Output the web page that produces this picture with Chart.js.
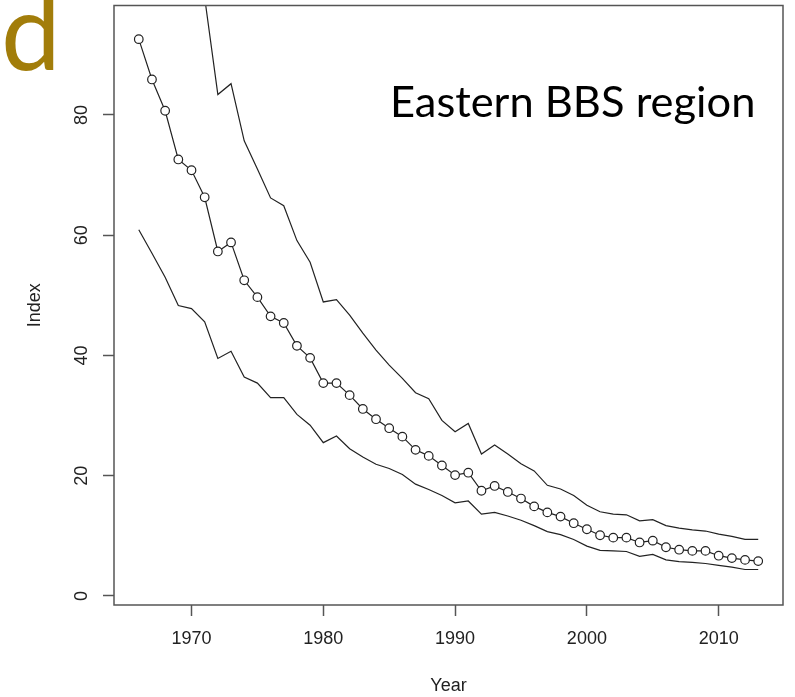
<!DOCTYPE html>
<html>
<head>
<meta charset="utf-8">
<script src="https://cdn.jsdelivr.net/npm/chart.js@4"></script>
<style>
  html, body { margin: 0; padding: 0; background: #fff; }
  #wrap { width: 795px; height: 697px; }
</style>
</head>
<body>
<div id="wrap"><canvas id="chart"></canvas></div>
<script>
// Index values
const years = [];
for (let y = 1966; y <= 2013; y++) years.push(y);

const index = [92.6, 85.9, 80.7, 72.6, 70.8, 66.3, 57.3, 58.8, 52.5, 49.7,
               46.5, 45.4, 41.6, 39.6, 35.4, 35.4, 33.4, 31.1, 29.4, 27.9,
               26.5, 24.3, 23.3, 21.7, 20.1, 20.5, 17.5, 18.3, 17.3, 16.2,
               14.9, 13.9, 13.2, 12.1, 11.1, 10.1, 9.7, 9.7, 8.9, 9.2,
               8.1, 7.7, 7.5, 7.5, 6.7, 6.3, 6.0, 5.8];

// upper limit runs off the top of the plot before 1972
const upper = [125, 118, 112, 106, 108, 99.5, 83.4, 85.2, 75.7, 71.0,
               66.2, 64.9, 59.1, 55.5, 48.9, 49.3, 46.7, 43.7, 40.9, 38.4,
               36.2, 33.8, 32.8, 29.2, 27.3, 28.7, 23.6, 25.1, 23.6, 22.0,
               20.8, 18.4, 17.8, 16.7, 15.1, 14.0, 13.6, 13.5, 12.5, 12.7,
               11.7, 11.3, 11.0, 10.8, 10.3, 9.9, 9.4, 9.4];

const lower = [60.9, 57.0, 53.0, 48.3, 47.8, 45.6, 39.5, 40.7, 36.4, 35.4,
               33.0, 33.0, 30.2, 28.4, 25.5, 26.6, 24.5, 23.1, 21.9, 21.2,
               20.2, 18.6, 17.7, 16.7, 15.5, 15.8, 13.6, 13.9, 13.3, 12.6,
               11.7, 10.7, 10.2, 9.4, 8.3, 7.6, 7.5, 7.4, 6.6, 6.9,
               6.0, 5.7, 5.6, 5.4, 5.1, 4.8, 4.4, 4.4];

const xTicks = [1970, 1980, 1990, 2000, 2010];
const yTicks = [0, 20, 40, 60, 80];

const toXY = arr => arr.map((v, i) => ({ x: years[i], y: v }));
const lineCol = '#222';
const axisCol = '#555';
const tickFont = { family: 'Liberation Sans, Arial, sans-serif', size: 18 };

// R-style box plus the two panel labels
const extras = {
    id: 'extras',
    afterDraw(chart) {
        const { ctx, chartArea: a } = chart;
        ctx.save();
        ctx.strokeStyle = axisCol;
        ctx.lineWidth = 1.5;
        ctx.strokeRect(a.left, a.top, a.right - a.left, a.bottom - a.top);

        // fit text into a given box width
        function fitText(txt, family, left, baseline, width, color) {
            ctx.font = `100px ${family}`;
            let m = ctx.measureText(txt);
            const size = 100 * width / (m.actualBoundingBoxLeft + m.actualBoundingBoxRight);
            ctx.font = `${size}px ${family}`;
            m = ctx.measureText(txt);
            ctx.fillStyle = color;
            ctx.textBaseline = 'alphabetic';
            ctx.textAlign = 'left';
            ctx.fillText(txt, left + m.actualBoundingBoxLeft, baseline);
        }
        fitText('d', 'Lato', 5, 70, 48, '#A27D0A');
        fitText('Eastern BBS region', 'Lato', 393, 117, 359, '#000');
        ctx.restore();
    }
};

new Chart(document.getElementById('chart'), {
    type: 'line',
    data: {
        datasets: [
            {
                data: toXY(upper),
                borderColor: lineCol,
                borderWidth: 1.2,
                pointRadius: 0,
                tension: 0
            },
            {
                data: toXY(lower),
                borderColor: lineCol,
                borderWidth: 1.2,
                pointRadius: 0,
                tension: 0
            },
            {
                data: toXY(index),
                borderColor: lineCol,
                borderWidth: 1.2,
                pointRadius: 4.3,
                pointBorderWidth: 1.2,
                pointBorderColor: lineCol,
                pointBackgroundColor: '#fff',
                tension: 0
            }
        ]
    },
    options: {
        responsive: true,
        maintainAspectRatio: false,
        animation: false,
        layout: { padding: { left: 0, top: 5, right: 12, bottom: 0 } },
        plugins: { legend: { display: false }, tooltip: { enabled: false } },
        scales: {
            x: {
                type: 'linear',
                min: 1964.12,
                max: 2014.88,
                afterBuildTicks: s => { s.ticks = xTicks.map(v => ({ value: v })); },
                afterFit: s => { s.height = 92; s.paddingLeft = 0; s.paddingRight = 0; },
                grid: { drawOnChartArea: false, drawTicks: true, tickLength: 11, tickColor: axisCol, tickWidth: 1.5 },
                border: { display: false },
                ticks: { font: tickFont, color: '#222', padding: 12, callback: v => String(v), maxRotation: 0 },
                title: { display: true, text: 'Year', font: tickFont, color: '#222', padding: { top: 0, bottom: 0 } }
            },
            y: {
                min: -1.5,
                max: 98.2,
                afterBuildTicks: s => { s.ticks = yTicks.map(v => ({ value: v })); },
                afterFit: s => { s.width = 114; s.paddingTop = 0; s.paddingBottom = 0; },
                grid: { drawOnChartArea: false, drawTicks: true, tickLength: 11, tickColor: axisCol, tickWidth: 1.5 },
                border: { display: false },
                ticks: { font: tickFont, color: '#222', padding: 11, crossAlign: 'center', minRotation: 90, maxRotation: 90, callback: v => String(v) },
                title: { display: true, text: 'Index', font: tickFont, color: '#222', padding: { top: 24, bottom: 0 } }
            }
        }
    },
    plugins: [extras]
});
</script>
</body>
</html>
